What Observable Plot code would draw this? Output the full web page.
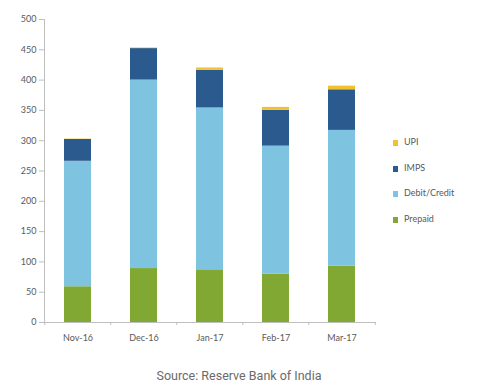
<!DOCTYPE html>
<html>
<head>
<meta charset="utf-8">
<script src="https://cdn.jsdelivr.net/npm/d3@7"></script>
<script src="https://cdn.jsdelivr.net/npm/@observablehq/plot@0.6"></script>
<style>
  html, body { margin: 0; padding: 0; background: #fff; }
  #wrap { position: relative; width: 478px; height: 387px; }
  #legend { position: absolute; left: 393px; top: 136px; font-family: Lato, "Open Sans", sans-serif; font-size: 9px; color: #595959; }
  #legend .row { height: 25.5px; display: flex; align-items: flex-start; }
  #legend .sw { width: 5px; height: 6px; margin-right: 6px; margin-top: 4px; }
  #caption { position: absolute; left: 0; width: 478px; top: 368px; text-align: center; font-family: Roboto, sans-serif; font-size: 12.5px; color: #6a6a6a; }
</style>
</head>
<body>
<div id="wrap">
  <div id="chart"></div>
  <div id="legend"></div>
  <div id="caption">Source: Reserve Bank of India</div>
</div>
<script>
const months = ["Nov-16", "Dec-16", "Jan-17", "Feb-17", "Mar-17"];
const seriesNames = ["Prepaid", "Debit/Credit", "IMPS", "UPI"];
const prepaid = [59, 89, 87, 80, 93];
const debitCredit = [207, 311, 267, 211, 224];
const imps = [36, 52, 62, 59, 67];
const upi = [0.6, 1, 4, 5, 6];
const colors = ["#80a832", "#7ec4e0", "#2b5a8f", "#f2c12e"];
const yTicks = [0, 50, 100, 150, 200, 250, 300, 350, 400, 450, 500];

const seriesValues = [prepaid, debitCredit, imps, upi];
const rows = [];
seriesNames.forEach((s, si) => {
  months.forEach((m, mi) => rows.push({month: m, series: s, value: seriesValues[si][mi]}));
});

// vertical y-axis line, drawn from the plot's own frame dimensions
const yAxisLine = (index, scales, values, dims) => {
  const g = d3.create("svg:line")
    .attr("x1", dims.marginLeft + 0.5).attr("x2", dims.marginLeft + 0.5)
    .attr("y1", dims.marginTop).attr("y2", dims.height - dims.marginBottom)
    .attr("stroke", "#bfbfbf");
  return g.node();
};

const plot = Plot.plot({
  width: 478,
  height: 350,
  marginTop: 19,
  marginBottom: 28,
  marginLeft: 44,
  marginRight: 102,
  style: {fontFamily: "Lato, 'Open Sans', sans-serif", fontSize: "9px", color: "#595959", background: "#fff"},
  x: {domain: months, paddingInner: 0.59, paddingOuter: 0.295, label: null},
  y: {domain: [0, 500], label: null},
  color: {domain: seriesNames, range: colors},
  marks: [
    Plot.barY(rows, {x: "month", y: "value", fill: "series", order: seriesNames}),
    Plot.axisY({ticks: yTicks, tickSize: 5, tickPadding: 3, stroke: "#bfbfbf", fill: "#595959", label: null}),
    yAxisLine,
    Plot.ruleY([0], {stroke: "#bfbfbf"}),
    Plot.axisX({tickSize: 0, tickPadding: 12, fill: "#595959", label: null}),
    Plot.ruleX(months, {x: d => d, y1: 0, y2: 0, dx: -33.2, insetBottom: -3, stroke: "#bfbfbf"}),
    Plot.ruleX(months.slice(-1), {x: d => d, y1: 0, y2: 0, dx: 33.2, insetBottom: -3, stroke: "#bfbfbf"})
  ]
});
document.getElementById("chart").appendChild(plot);

const legendOrder = ["UPI", "IMPS", "Debit/Credit", "Prepaid"];
const legend = document.getElementById("legend");
legendOrder.forEach(name => {
  const row = document.createElement("div");
  row.className = "row";
  const sw = document.createElement("div");
  sw.className = "sw";
  sw.style.background = colors[seriesNames.indexOf(name)];
  const t = document.createElement("span");
  t.textContent = name;
  row.appendChild(sw);
  row.appendChild(t);
  legend.appendChild(row);
});
</script>
</body>
</html>
